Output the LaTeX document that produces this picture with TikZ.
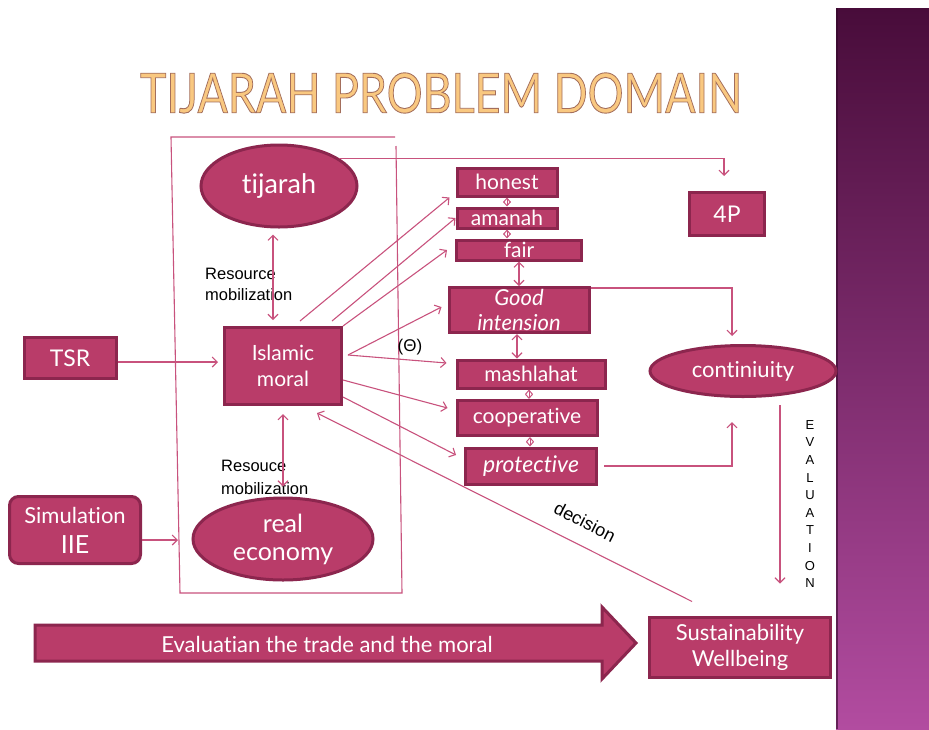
\documentclass[tikz,border=0pt]{standalone}
\usepackage{fontspec}
\usepackage{graphicx}
\setmainfont{Lato}
\newfontfamily\nodefont[Ligatures={NoCommon,NoContextual}]{Lato}
\newfontfamily\labfont{Liberation Sans}
\newfontfamily\titlefont{Lato}
\usetikzlibrary{arrows.meta,shapes.geometric}
\definecolor{nodefill}{RGB}{185,60,105}
\definecolor{nodeedge}{RGB}{140,38,78}
\definecolor{linkc}{RGB}{200,82,125}
\definecolor{bandtop}{RGB}{72,12,58}
\definecolor{bandmid}{RGB}{128,42,112}
\definecolor{bandbot}{RGB}{178,76,160}
\definecolor{titlefill}{RGB}{249,200,128}
\newcommand\fsz[2]{\fontsize{#1}{#2}\selectfont}
\newcommand\titletext{\resizebox{602pt}{40pt}{\titlefont\fsz{55}{60}\special{pdf:literal direct 2 Tr 0.9 w 0.64 0.43 0.36 RG}TIJARAH PROBLEM DOMAIN\special{pdf:literal direct 0 Tr}}}
\begin{document}
\begin{tikzpicture}[x=1pt,y=-1pt,
  box/.style={draw=nodeedge,fill=nodefill,line width=3pt,text=white,inner sep=0pt,align=center},
  oval/.style={box,ellipse},
  link/.style={draw=linkc,line width=1.1pt,-{Straight Barb[length=5pt,width=10pt]}},
  dlink/.style={draw=linkc,line width=1.1pt,{Straight Barb[length=5pt,width=10pt]}-{Straight Barb[length=5pt,width=10pt]}},
  slink/.style={draw=linkc,line width=1pt,{Straight Barb[length=4pt,width=7pt]}-{Straight Barb[length=4pt,width=7pt]}},
  frameline/.style={draw=linkc,line width=1.1pt},
  lab/.style={text=black,inner sep=0pt}
]
\useasboundingbox (0,0) rectangle (929,729);
% right band
\shade[top color=bandtop, middle color=bandmid, bottom color=bandbot] (836,8) rectangle (929,729);
\draw[line width=2pt, bandtop!70!black, opacity=0.6] (837,8) -- (837,729);

% title
\node[inner sep=0pt, text=titlefill] (title) at (441,93) {\titletext};

% frame
\draw[frameline] (395,137) -- (171,137) -- (180,593) -- (402,593) -- (396,146);
\coordinate (simtip) at (178,540);

% nodes
\node[oval, minimum width=156pt, minimum height=82pt, font=\nodefont\fsz{27}{30}] (tij) at (279,186) {tijarah};
\node[box, minimum width=117pt, minimum height=77pt, font=\nodefont\fsz{21}{26}] (im) at (283,366) {Islamic\\moral};
\node[oval, minimum width=180pt, minimum height=82pt, font=\nodefont\fsz{25}{28}] (re) at (283,539) {real\\economy};
\node[box, minimum width=92pt, minimum height=41pt, font=\nodefont\fsz{23}{26}] (tsr) at (70,358) {TSR};
\node[box, rounded corners=9pt, minimum width=131pt, minimum height=67pt, font=\nodefont\fsz{22}{30}] (sim) at (75,530) {Simulation\\{\fsz{25}{30}IIE}};
\node[box, minimum width=100pt, minimum height=28pt, font=\nodefont\fsz{21}{24}] (hon) at (507,182) {honest};
\node[box, minimum width=100pt, minimum height=20pt, font=\nodefont\fsz{21}{24}] (ama) at (507,218) {amanah};
\node[box, minimum width=125pt, minimum height=20pt, font=\nodefont\fsz{21}{24}] (fair) at (519,250) {fair};
\node[box, minimum width=140pt, minimum height=45pt, font=\nodefont\itshape\fsz{22}{25}] (good) at (519,310) {Good\\intension};
\node[box, minimum width=148pt, minimum height=28pt, font=\nodefont\fsz{21}{24}] (mash) at (531,374) {mashlahat};
\node[box, minimum width=140pt, minimum height=35pt, font=\nodefont\fsz{21}{24}] (coop) at (527,418) {cooperative};
\node[box, minimum width=131pt, minimum height=36pt, font=\nodefont\itshape\fsz{23}{24}] (prot) at (531,466) {protective};
\node[box, minimum width=75pt, minimum height=43pt, font=\nodefont\fsz{23}{24}] (fourp) at (727,214) {4P};
\node[oval, minimum width=186pt, minimum height=51pt, font=\nodefont\fsz{22}{24}] (cont) at (743,371) {continiuity};
\node[box, minimum width=181pt, minimum height=60pt, font=\nodefont\fsz{22}{26}] (sus) at (740,647) {Sustainability\\Wellbeing};

% big arrow
\draw[draw=nodeedge, fill=nodefill, line width=3pt, line join=miter] (35,625) -- (602,625) -- (602,607) -- (636,643) -- (602,679) -- (602,661) -- (35,661) -- cycle;
\node[text=white, inner sep=0pt, font=\nodefont\fsz{22}{24}] (evaltext) at (327,644) {Evaluatian the trade and the moral};

% labels
\node[lab, align=left, anchor=west, font=\labfont\fsz{16.5}{21}] (rl1) at (205,284.5) {Resource\\mobilization};
\node[lab, align=left, anchor=west, font=\labfont\fsz{16.5}{23}] (rl2) at (221,477.5) {Resouce\\mobilization};
\node[lab, font=\labfont\fsz{17}{20}] (theta) at (410,347) {(Θ)};
\node[lab, rotate=-27, font=\labfont\fsz{18}{20}] (declab) at (585,522) {decision};
\node[lab, align=center, font=\labfont\fsz{13}{17.6}] (evlab) at (810,504) {E\\V\\A\\L\\U\\A\\T\\I\\O\\N};

% connectors
\draw[dlink] ([xshift=-6pt,yshift=-6pt]tij.south) -- ([xshift=-10pt,yshift=6pt]im.north);
\draw[dlink] ([yshift=-8pt]im.south) -- ([yshift=10pt]re.north);
\draw[link] ([yshift=-4pt]tsr.east) -- ([xshift=-5pt,yshift=4pt]im.west);
\draw[link] ([yshift=-10pt]sim.east) -- (simtip);
\coordinate (ptop) at ([xshift=-3pt,yshift=15pt]fourp.north);
\draw[link] (tij.25) -- (tij.25 -| ptop) -- (ptop);

\draw[link] ([xshift=17pt,yshift=5pt]im.north) -- ([xshift=-6pt]hon.south west);
\draw[link] ([xshift=49pt,yshift=5pt]im.north) -- (ama.west);
\draw[link] (im.north east) -- ([xshift=-8pt]fair.west);
\draw[link] ([xshift=5pt,yshift=11pt]im.east) -- ([xshift=-6pt,yshift=3pt]good.west);
\draw[link] ([xshift=5pt,yshift=11pt]im.east) -- ([xshift=-9pt,yshift=11pt]mash.west);
\draw[link] ([yshift=-14pt]im.east) -- ([xshift=-8pt,yshift=10pt]coop.west);
\draw[link] ([yshift=-31pt]im.east) -- ([xshift=-8pt,yshift=11pt]prot.west);
\draw[link] ([xshift=-48pt,yshift=14pt]sus.north) -- ([xshift=34pt,yshift=-7pt]im.south);

\draw[slink] (hon.south) -- (ama.north);
\draw[slink] (ama.south) -- (ama.south |- fair.north);
\draw[dlink] (fair.south) -- (good.north);
\draw[dlink] ([xshift=-2pt]good.south) -- ([xshift=-14pt]mash.north);
\draw[slink] ([xshift=-2pt]mash.south) -- ([xshift=2pt]coop.north);
\draw[slink] ([xshift=3pt]coop.south) -- ([xshift=-1pt]prot.north);

\coordinate (ctop) at ([xshift=-11pt,yshift=8pt]cont.north);
\coordinate (gstart) at ([yshift=-2pt]good.north east);
\draw[link] (gstart) -- (gstart -| ctop) -- (ctop);
\coordinate (cbot) at ([xshift=-11pt,yshift=-24pt]cont.south);
\coordinate (pstart) at ([xshift=6pt]prot.east);
\draw[link] (pstart) -- (pstart -| cbot) -- (cbot);
\draw[link] ([xshift=37pt,yshift=-7pt]cont.south) -- ([xshift=40pt,yshift=32pt]sus.north);
\end{tikzpicture}
\end{document}
